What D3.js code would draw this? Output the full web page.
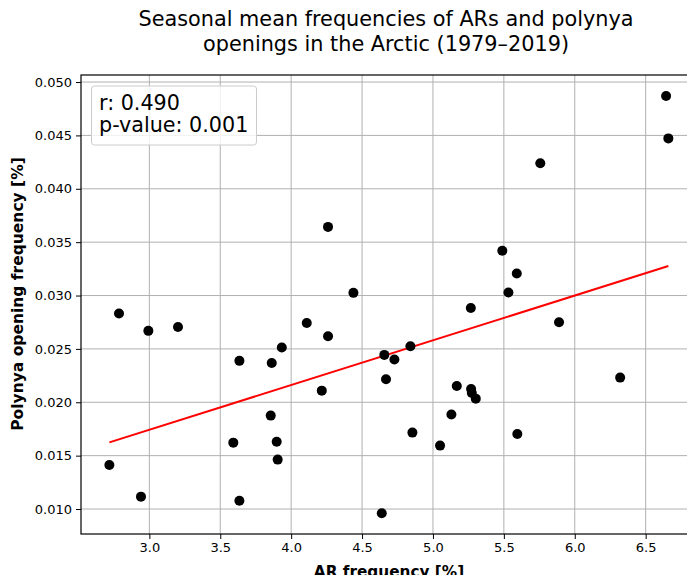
<!DOCTYPE html>
<html><head><meta charset="utf-8">
<script src="https://cdn.jsdelivr.net/npm/d3@7"></script>
<style>body{margin:0;background:#fff}svg{display:block}text{font-family:"DejaVu Sans",sans-serif}</style>
</head><body>
<svg id="c" width="687" height="575"></svg>
<script>
const arFreq = [2.786,2.993,3.202,4.110,4.260,4.260,6.644,6.660,5.757,5.489,5.591,5.532,5.267,5.889,4.439,
  2.718,2.941,3.635,3.863,3.934,4.216,3.856,3.592,3.898,3.905,3.635,
  4.657,4.728,4.841,4.669,5.168,5.269,5.274,5.302,5.130,4.855,5.050,5.595,6.320,4.639];
const polynyaFreq = [0.02831,0.02669,0.02706,0.02743,0.03643,0.02619,0.04869,0.04472,0.04240,0.03419,0.03206,0.03028,0.02884,0.02750,0.03025,
  0.01413,0.01116,0.02388,0.02368,0.02513,0.02109,0.01875,0.01622,0.01631,0.01463,0.01078,
  0.02444,0.02401,0.02525,0.02215,0.02153,0.02124,0.02087,0.02034,0.01885,0.01716,0.01594,0.01703,0.02231,0.00960];
const xTicks = [3.0,3.5,4.0,4.5,5.0,5.5,6.0,6.5];
const yTicks = [0.010,0.015,0.020,0.025,0.030,0.035,0.040,0.045,0.050];
const statsLines = ["r: 0.490","p-value: 0.001"];
const titleLines = ["Seasonal mean frequencies of ARs and polynya","openings in the Arctic (1979\u20132019)"];

const svg = d3.select("#c");
const L=81,R=697,T=75,B=534;
const x = d3.scaleLinear().domain([2.518,6.862]).range([L,R]);
const y = d3.scaleLinear().domain([0.00766,0.05066]).range([B,T]);

// grid
svg.append("g").selectAll("line").data(xTicks).join("line")
  .attr("x1",d=>x(d)).attr("x2",d=>x(d)).attr("y1",T).attr("y2",B)
  .attr("stroke","#b0b0b0").attr("stroke-width",1);
svg.append("g").selectAll("line").data(yTicks).join("line")
  .attr("y1",d=>y(d)).attr("y2",d=>y(d)).attr("x1",L).attr("x2",R)
  .attr("stroke","#b0b0b0").attr("stroke-width",1);

// regression
const n=arFreq.length, mx=d3.mean(arFreq), my=d3.mean(polynyaFreq);
let sxy=0,sxx=0; for(let i=0;i<n;i++){sxy+=(arFreq[i]-mx)*(polynyaFreq[i]-my);sxx+=(arFreq[i]-mx)**2;}
const slope=sxy/sxx, icpt=my-slope*mx;
const [xmin,xmax]=d3.extent(arFreq);
svg.append("line").attr("x1",x(xmin)).attr("y1",y(icpt+slope*xmin)).attr("x2",x(xmax)).attr("y2",y(icpt+slope*xmax))
  .attr("stroke","#ff0000").attr("stroke-width",2);

// points
svg.append("g").selectAll("circle").data(arFreq).join("circle")
  .attr("cx",d=>x(d)).attr("cy",(d,i)=>y(polynyaFreq[i])).attr("r",5).attr("fill","#000");

// axes
const xa = svg.append("g").attr("transform",`translate(0,${B})`)
  .call(d3.axisBottom(x).tickValues(xTicks).tickFormat(d3.format(".1f")).tickSize(5).tickPadding(4));
const ya = svg.append("g").attr("transform",`translate(${L},0)`)
  .call(d3.axisLeft(y).tickValues(yTicks).tickFormat(d3.format(".3f")).tickSize(5).tickPadding(4));
[xa,ya].forEach(g=>{g.select(".domain").remove();g.selectAll("text").attr("font-size",13).attr("fill","#000").style("font-family","DejaVu Sans");g.selectAll("line").attr("stroke","#000").attr("stroke-width",1);});
svg.append("rect").attr("x",L).attr("y",T).attr("width",R-L).attr("height",B-T).attr("fill","none").attr("stroke","#000").attr("stroke-width",1.2);

// legend box
svg.append("rect").attr("x",91.5).attr("y",86).attr("width",165).attr("height",59).attr("rx",3)
  .attr("fill","#fff").attr("fill-opacity",0.8).attr("stroke","#cccccc").attr("stroke-width",1);
svg.append("g").selectAll("text").data(statsLines).join("text")
  .attr("x",99).attr("y",(d,i)=>109.5+i*22.5).attr("font-size",20.7).attr("fill","#000").text(d=>d);

// title
svg.append("g").selectAll("text").data(titleLines).join("text")
  .attr("x",386).attr("y",(d,i)=>26+i*24.5).attr("text-anchor","middle").attr("font-size",20.8).attr("fill","#000").text(d=>d);

// axis labels
svg.append("text").attr("x",389).attr("y",577).attr("text-anchor","middle").attr("font-size",15.3).attr("font-weight","bold").text("AR frequency [%]");
svg.append("text").attr("transform","translate(23,294) rotate(-90)").attr("text-anchor","middle").attr("font-size",15.5).attr("font-weight","bold").text("Polynya opening frequency [%]");
</script>
</body></html>
